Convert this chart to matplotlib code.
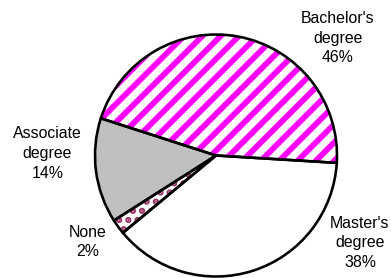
import matplotlib
import matplotlib.pyplot as plt

matplotlib.use("Agg")

categories = ["Bachelor's\ndegree", "Associate\ndegree", "None", "Master's\ndegree"]
shares = [46, 14, 2, 38]
pct_labels = ["46%", "14%", "2%", "38%"]

fill_colors = ["white", "#C0C0C0", "white", "white"]
hatch_colors = ["#FF00FF", "#C0C0C0", "#993366", "white"]
hatches = ["//", "", "..", ""]
hatch_widths = [3.8, 1.0, 2.8, 1.0]
label_pos = [(1.008, 0.971), (-1.393, 0.017), (-1.058, -0.715), (1.19, -0.723)]

DPI = 110
fig = plt.figure(figsize=(391 / DPI, 278 / DPI), dpi=DPI)
ax = fig.add_axes([0, 0, 1, 1])

# filled / hatched wedges first, no outline
wedges, _ = ax.pie(shares, startangle=-3.5, counterclock=True,
                   colors=fill_colors, radius=1.0,
                   wedgeprops=dict(linewidth=0))
for w, hc, h, hw in zip(wedges, hatch_colors, hatches, hatch_widths):
    w.set_edgecolor(hc)
    if h:
        w.set_hatch(h)
        if hasattr(w, "set_hatch_linewidth"):
            w.set_hatch_linewidth(hw)
    w.set_linewidth(0)

# black outlines on top
ax.pie(shares, startangle=-3.5, counterclock=True, radius=1.0,
       wedgeprops=dict(fill=False, edgecolor="black", linewidth=1.7))

for cat, pct, (x, y) in zip(categories, pct_labels, label_pos):
    ax.text(x, y, cat + "\n" + pct, ha="center", va="center",
            fontsize=10.4, family="Liberation Sans", linespacing=1.38)

ax.set_xlim(-216 / 121, (391 - 216) / 121)
ax.set_ylim(-122.5 / 121, 155.5 / 121)
ax.set_aspect("auto")
ax.axis("off")

plt.savefig("out.png", dpi=DPI)
